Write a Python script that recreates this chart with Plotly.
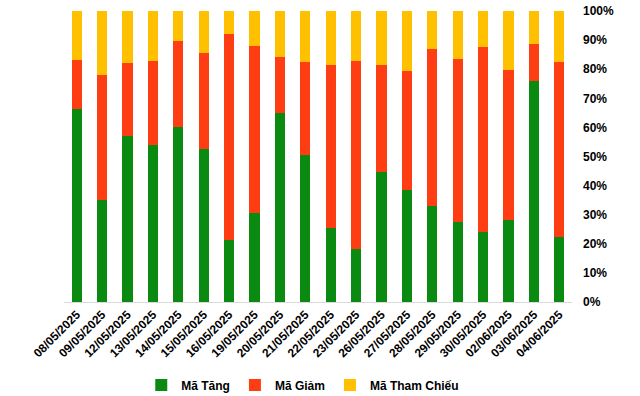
import plotly.graph_objects as go

dates = ["08/05/2025", "09/05/2025", "12/05/2025", "13/05/2025", "14/05/2025",
         "15/05/2025", "16/05/2025", "19/05/2025", "20/05/2025", "21/05/2025",
         "22/05/2025", "23/05/2025", "26/05/2025", "27/05/2025", "28/05/2025",
         "29/05/2025", "30/05/2025", "02/06/2025", "03/06/2025", "04/06/2025"]
ma_tang = [66.3, 35.0, 57.2, 54.0, 60.1, 52.6, 21.4, 30.6, 64.9, 50.5,
           25.4, 18.2, 44.7, 38.5, 33.0, 27.5, 24.1, 28.2, 75.9, 22.3]
ma_giam = [16.9, 43.0, 24.9, 28.8, 29.6, 33.0, 70.7, 57.4, 19.3, 32.0,
           56.0, 64.6, 36.7, 40.9, 53.9, 56.0, 63.5, 51.5, 12.8, 60.2]
ma_tham_chieu = [16.8, 22.0, 17.9, 17.2, 10.3, 14.4, 7.9, 12.0, 15.8, 17.5,
                 18.6, 17.2, 18.6, 20.6, 13.1, 16.5, 12.4, 20.3, 11.3, 17.5]
y_ticks = [0, 10, 20, 30, 40, 50, 60, 70, 80, 90, 100]

series = [("Mã Tăng", ma_tang, "#0B8A11"),
          ("Mã Giảm", ma_giam, "#FF3D13"),
          ("Mã Tham Chiếu", ma_tham_chieu, "#FFC000")]

fig = go.Figure()
for name, vals, color in series:
    fig.add_trace(go.Bar(x=dates, y=vals, name=name, marker_color=color,
                         marker_line_width=0))

FAM = "Liberation Sans, Arial, sans-serif"
fig.update_layout(
    barmode="stack",
    barnorm="percent",
    bargap=0.6,
    width=640, height=396,
    margin=dict(l=64, r=68, t=11, b=94, autoexpand=False),
    paper_bgcolor="white", plot_bgcolor="white",
    font=dict(family=FAM, size=12, color="#000000"),
    showlegend=True,
    legend=dict(orientation="h", x=0.47, xanchor="center", y=-0.285, yanchor="middle",
                traceorder="normal",
                font=dict(family=FAM, size=12, color="#000000", weight="bold"),
                itemwidth=30, tracegroupgap=0),
    xaxis=dict(tickangle=-45, showgrid=False, showline=True, linecolor="#D9D9D9",
               linewidth=1, ticks="", automargin=False,
               tickfont=dict(family=FAM, size=12, color="#000000", weight="bold")),
    yaxis=dict(side="right", range=[0, 100], tickvals=y_ticks,
               ticktext=[f"{v}%" for v in y_ticks], showgrid=False, zeroline=False,
               showline=False, ticklabelstandoff=10, automargin=False,
               tickfont=dict(family=FAM, size=12, color="#000000", weight="bold")),
)

fig.write_html("out.html",
               config={"displayModeBar": False},
               post_script="document.body.style.margin='0';document.body.style.overflow='hidden';")
